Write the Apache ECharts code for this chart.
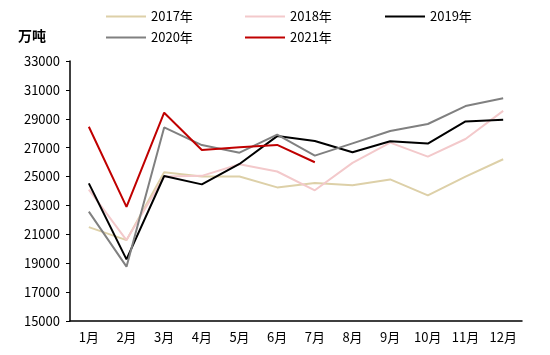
<!DOCTYPE html>
<html><head><meta charset="utf-8">
<script src="https://cdn.jsdelivr.net/npm/echarts@6/dist/echarts.min.js"></script>
<style>html,body{margin:0;padding:0;background:#fff}#c{width:550px;height:355px}</style>
</head><body><div id="c"></div>
<script>
const months = ['1月','2月','3月','4月','5月','6月','7月','8月','9月','10月','11月','12月'];
const s2017 = [21500,20600,25300,25000,25000,24250,24550,24400,24800,23700,25000,26200];
const s2018 = [24100,20600,25000,25050,25850,25350,24050,25950,27350,26380,27600,29550];
const s2019 = [24530,19270,25040,24460,25870,27800,27460,26680,27440,27280,28820,28940];
const s2020 = [22570,18760,28400,27180,26650,27900,26450,27300,28150,28640,29880,30420];
const s2021 = [28450,22900,29420,26840,27030,27190,25990];
const names = ['2017年','2018年','2019年','2020年','2021年'];
const colors = ['#DDD0A8','#F3C9CB','#000000','#808080','#C00000'];
const yTicks = {min:15000,max:33000,interval:2000};
const FONT = '"Noto Sans CJK SC", "Noto Sans", sans-serif';
const data = [s2017,s2018,s2019,s2020,s2021];
const legendPos = [[106,10],[245,10],[385,10],[106,31],[245,31]];
const chart = echarts.init(document.getElementById('c'));
chart.setOption({
  animation:false,
  textStyle:{fontFamily:FONT},
  title:{text:'万吨',left:18,top:29,padding:0,textStyle:{fontFamily:FONT,fontSize:14,fontWeight:'bold',color:'#000'}},
  legend: names.map((n,i)=>({
    data:[n], left:legendPos[i][0], top:legendPos[i][1], padding:0, icon:'rect', itemWidth:40, itemHeight:2,
    itemGap:5, textStyle:{fontFamily:FONT,fontSize:13,color:'#000'}, selectedMode:false
  })),
  grid:{left:70,right:28,top:61,bottom:34,containLabel:false},
  xAxis:{type:'category',data:months,boundaryGap:true,
    axisLine:{lineStyle:{color:'#000',width:1.5}},
    axisTick:{inside:true,length:4,lineStyle:{color:'#000'}},
    axisLabel:{color:'#000',fontSize:13,fontFamily:FONT,margin:10}},
  yAxis:{type:'value',min:yTicks.min,max:yTicks.max,interval:yTicks.interval,
    axisLine:{show:true,lineStyle:{color:'#000',width:1.5}},
    axisTick:{show:true,length:4,lineStyle:{color:'#000'}},
    splitLine:{show:false},
    axisLabel:{color:'#000',fontSize:13,fontFamily:FONT,margin:10,formatter:v=>String(v)}},
  series: names.map((n,i)=>({
    name:n,type:'line',data:data[i],symbol:'none',
    lineStyle:{color:colors[i],width:2},itemStyle:{color:colors[i]},z:i===4?10:5
  }))
});
</script></body></html>
